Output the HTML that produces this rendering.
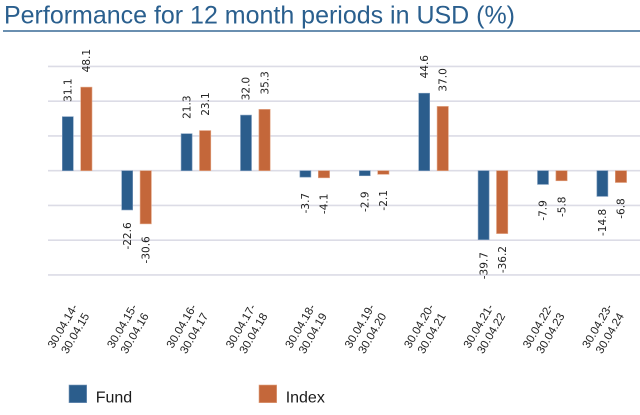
<!DOCTYPE html>
<html>
<head>
<meta charset="utf-8">
<style>
html,body{margin:0;padding:0;background:#fff;}
svg{display:block;}
.bl{font-family:"DejaVu Sans","Liberation Sans",sans-serif;font-size:10.5px;fill:#222;}
.xl{font-family:"Liberation Sans",sans-serif;font-size:11.5px;fill:#222;}
.lg{font-family:"Liberation Sans",sans-serif;font-size:16px;fill:#1a1a1a;}
</style>
</head>
<body>
<svg width="640" height="415" viewBox="0 0 640 415" xmlns="http://www.w3.org/2000/svg">
<rect width="640" height="415" fill="#fff"/>
<text x="4" y="23.5" font-family="Liberation Sans, sans-serif" font-size="25" fill="#2a5f8e" textLength="511" lengthAdjust="spacingAndGlyphs">Performance for 12 month periods in USD (%)</text>
<rect x="3" y="30.3" width="637" height="1.4" fill="#2a5f8e"/>

<g stroke="#dcdce6" stroke-width="1.6">
<line x1="48" y1="66.45" x2="640" y2="66.45"/>
<line x1="48" y1="101.2" x2="640" y2="101.2"/>
<line x1="48" y1="135.95" x2="640" y2="135.95"/>
<line x1="48" y1="170.7" x2="640" y2="170.7"/>
<line x1="48" y1="205.45" x2="640" y2="205.45"/>
<line x1="48" y1="240.2" x2="640" y2="240.2"/>
<line x1="48" y1="274.95" x2="640" y2="274.95"/>
</g>

<g fill="#2b5d8c" stroke="#7d9cbd" stroke-width="0.6">
<rect x="62.3" y="116.66" width="11" height="54.04"/>
<rect x="121.7" y="170.7" width="11" height="39.27"/>
<rect x="181.1" y="133.69" width="11" height="37.01"/>
<rect x="240.5" y="115.1" width="11" height="55.6"/>
<rect x="299.9" y="170.7" width="11" height="6.43"/>
<rect x="359.3" y="170.7" width="11" height="5.04"/>
<rect x="418.7" y="93.21" width="11" height="77.49"/>
<rect x="478.1" y="170.7" width="11" height="68.98"/>
<rect x="537.5" y="170.7" width="11" height="13.73"/>
<rect x="596.9" y="170.7" width="11" height="25.72"/>
</g>
<g fill="#c4673a" stroke="#e3a787" stroke-width="0.6">
<rect x="80.7" y="87.13" width="11.3" height="83.57"/>
<rect x="140.1" y="170.7" width="11.3" height="53.17"/>
<rect x="199.5" y="130.56" width="11.3" height="40.14"/>
<rect x="258.9" y="109.37" width="11.3" height="61.33"/>
<rect x="318.3" y="170.7" width="11.3" height="7.12"/>
<rect x="377.7" y="170.7" width="11.3" height="3.65"/>
<rect x="437.1" y="106.41" width="11.3" height="64.29"/>
<rect x="496.5" y="170.7" width="11.3" height="62.9"/>
<rect x="555.9" y="170.7" width="11.3" height="10.08"/>
<rect x="615.3" y="170.7" width="11.3" height="11.82"/>
</g>

<g class="bl" text-anchor="middle">
<text transform="translate(71.5,90.16) rotate(-90)">31.1</text>
<text transform="translate(130.9,235.97) rotate(-90)">-22.6</text>
<text transform="translate(190.3,107.19) rotate(-90)">21.3</text>
<text transform="translate(249.7,88.6) rotate(-90)">32.0</text>
<text transform="translate(309.1,203.13) rotate(-90)">-3.7</text>
<text transform="translate(368.5,201.74) rotate(-90)">-2.9</text>
<text transform="translate(427.9,66.71) rotate(-90)">44.6</text>
<text transform="translate(487.3,265.68) rotate(-90)">-39.7</text>
<text transform="translate(546.7,210.43) rotate(-90)">-7.9</text>
<text transform="translate(606.1,222.42) rotate(-90)">-14.8</text>

<text transform="translate(90.05,60.63) rotate(-90)">48.1</text>
<text transform="translate(149.45,249.87) rotate(-90)">-30.6</text>
<text transform="translate(208.85,104.06) rotate(-90)">23.1</text>
<text transform="translate(268.25,82.87) rotate(-90)">35.3</text>
<text transform="translate(327.65,203.82) rotate(-90)">-4.1</text>
<text transform="translate(387.05,200.35) rotate(-90)">-2.1</text>
<text transform="translate(446.45,79.91) rotate(-90)">37.0</text>
<text transform="translate(505.85,259.6) rotate(-90)">-36.2</text>
<text transform="translate(565.25,206.78) rotate(-90)">-5.8</text>
<text transform="translate(624.65,208.52) rotate(-90)">-6.8</text>
</g>

<g class="xl" text-anchor="middle">
<text transform="translate(68.7,329.5) rotate(-60)"><tspan x="0" y="-3.15">30.04.14-</tspan><tspan x="0" y="11.35">30.04.15</tspan></text>
<text transform="translate(128.1,329.5) rotate(-60)"><tspan x="0" y="-3.15">30.04.15-</tspan><tspan x="0" y="11.35">30.04.16</tspan></text>
<text transform="translate(187.5,329.5) rotate(-60)"><tspan x="0" y="-3.15">30.04.16-</tspan><tspan x="0" y="11.35">30.04.17</tspan></text>
<text transform="translate(246.9,329.5) rotate(-60)"><tspan x="0" y="-3.15">30.04.17-</tspan><tspan x="0" y="11.35">30.04.18</tspan></text>
<text transform="translate(306.3,329.5) rotate(-60)"><tspan x="0" y="-3.15">30.04.18-</tspan><tspan x="0" y="11.35">30.04.19</tspan></text>
<text transform="translate(365.7,329.5) rotate(-60)"><tspan x="0" y="-3.15">30.04.19-</tspan><tspan x="0" y="11.35">30.04.20</tspan></text>
<text transform="translate(425.1,329.5) rotate(-60)"><tspan x="0" y="-3.15">30.04.20-</tspan><tspan x="0" y="11.35">30.04.21</tspan></text>
<text transform="translate(484.5,329.5) rotate(-60)"><tspan x="0" y="-3.15">30.04.21-</tspan><tspan x="0" y="11.35">30.04.22</tspan></text>
<text transform="translate(543.9,329.5) rotate(-60)"><tspan x="0" y="-3.15">30.04.22-</tspan><tspan x="0" y="11.35">30.04.23</tspan></text>
<text transform="translate(603.3,329.5) rotate(-60)"><tspan x="0" y="-3.15">30.04.23-</tspan><tspan x="0" y="11.35">30.04.24</tspan></text>
</g>

<rect x="69" y="385" width="17.7" height="17.7" fill="#2b5d8c" stroke="#7d9cbd" stroke-width="0.6"/>
<text class="lg" x="95.7" y="402.3">Fund</text>
<rect x="259" y="385" width="17.7" height="17.7" fill="#c4673a" stroke="#e3a787" stroke-width="0.6"/>
<text class="lg" x="285.7" y="402.3">Index</text>
</svg>
</body>
</html>
